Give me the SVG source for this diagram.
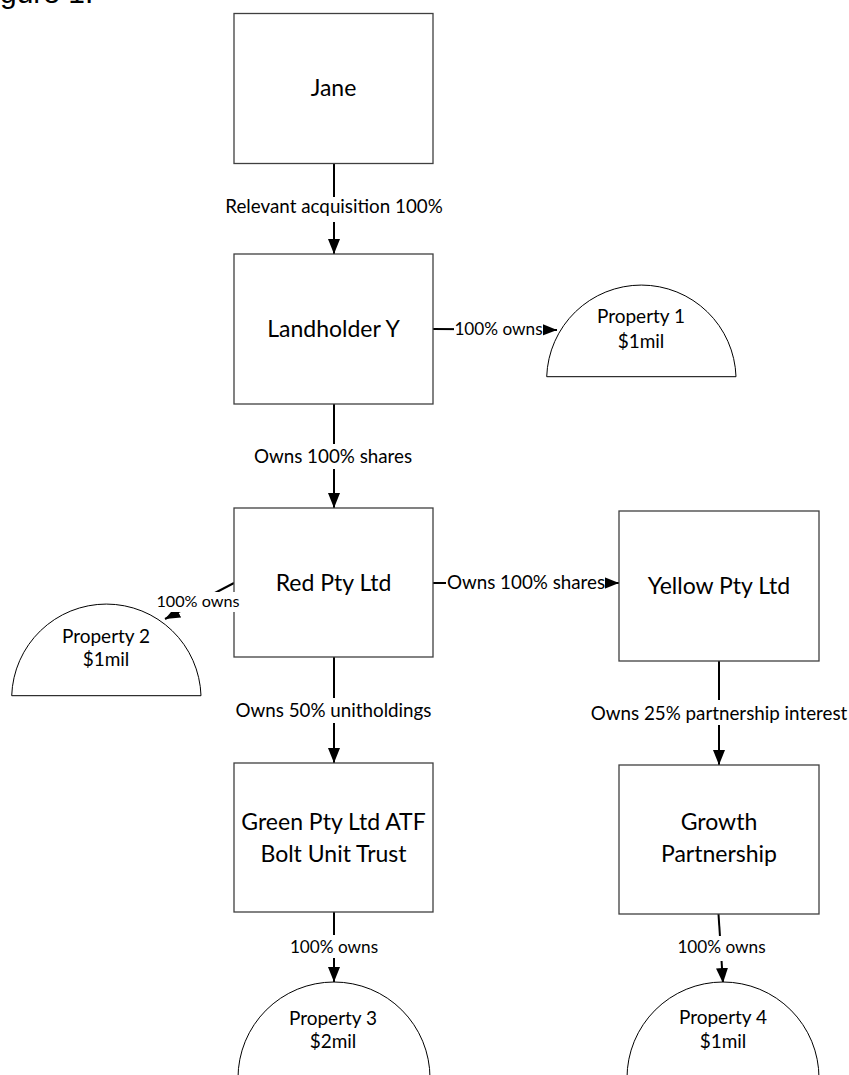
<svg xmlns="http://www.w3.org/2000/svg" width="849" height="1075" viewBox="0 0 849 1075">
<style>
.box{fill:#fff;stroke:#3f3f3f;stroke-width:1.3}
.prop{fill:#fff;stroke:#000;stroke-width:1}
.t{font-family:Lato,"Open Sans",sans-serif;font-size:23px;fill:#000;text-anchor:middle}
.p{font-family:Lato,"Open Sans",sans-serif;font-size:19px;fill:#000;text-anchor:middle}
.l{font-family:Lato,"Open Sans",sans-serif;font-size:18.8px;fill:#000;text-anchor:middle}
.s{font-family:Lato,"Open Sans",sans-serif;font-size:17.2px;fill:#000;text-anchor:middle}
.c{stroke:#000;stroke-width:2;fill:none}
.bg{fill:#fff}
</style>
<defs>
<marker id="ah" markerUnits="userSpaceOnUse" markerWidth="15" markerHeight="12" refX="15" refY="6" orient="auto"><path d="M0,0L15,6L0,12z" fill="#000"/></marker>
</defs>
<rect width="849" height="1075" fill="#fff"/>
<text x="-25" y="3" font-family="Liberation Sans, Arial, sans-serif" font-size="30">Figure 1:</text>

<g id="connectors">
<line class="c" x1="334" y1="163.5" x2="334" y2="254" marker-end="url(#ah)"/>
<line class="c" x1="334" y1="404" x2="334" y2="508" marker-end="url(#ah)"/>
<line class="c" x1="433" y1="329" x2="557" y2="330" marker-end="url(#ah)"/>
<line class="c" x1="433" y1="583" x2="619" y2="583" marker-end="url(#ah)"/>
<line class="c" x1="234" y1="583" x2="165" y2="619" marker-end="url(#ah)"/>
<line class="c" x1="334" y1="657" x2="334" y2="763" marker-end="url(#ah)"/>
<line class="c" x1="719" y1="661" x2="719" y2="765" marker-end="url(#ah)"/>
<line class="c" x1="334" y1="912" x2="334" y2="982" marker-end="url(#ah)"/>
<line class="c" x1="718.5" y1="914" x2="723" y2="983" marker-end="url(#ah)"/>
</g>

<g id="jane"><rect class="box" x="234" y="13.5" width="199" height="150"/><text class="t" x="333.5" y="96">Jane</text></g>
<g id="landholder-y"><rect class="box" x="234" y="254" width="199" height="150"/><text class="t" x="333.5" y="337">Landholder Y</text></g>
<g id="red"><rect class="box" x="234" y="508" width="199" height="149"/><text class="t" x="333.5" y="591">Red Pty Ltd</text></g>
<g id="yellow"><rect class="box" x="619" y="511" width="200" height="150"/><text class="t" x="719" y="594">Yellow Pty Ltd</text></g>
<g id="green"><rect class="box" x="234" y="763" width="199" height="149"/><text class="t" x="333.5" y="830">Green Pty Ltd ATF</text><text class="t" x="333.5" y="862">Bolt Unit Trust</text></g>
<g id="growth"><rect class="box" x="619" y="765" width="200" height="149"/><text class="t" x="719" y="830">Growth</text><text class="t" x="719" y="862">Partnership</text></g>

<g id="property-1"><path class="prop" d="M546.7,376.7A94.7,94.7 0 0 1 736,376.7Z"/><text class="p" x="641" y="323">Property 1</text><text class="p" x="641" y="348">$1mil</text></g>
<g id="property-2"><path class="prop" d="M11.7,695.7A94.7,94.7 0 0 1 201,695.7Z"/><text class="p" x="106" y="643">Property 2</text><text class="p" x="106" y="666">$1mil</text></g>
<g id="property-3"><path class="prop" d="M238,1078A96,96 0 0 1 430,1078Z"/><text class="p" x="333" y="1025">Property 3</text><text class="p" x="333" y="1048">$2mil</text></g>
<g id="property-4"><path class="prop" d="M627,1078A96,96 0 0 1 819,1078Z"/><text class="p" x="723" y="1024">Property 4</text><text class="p" x="723" y="1048">$1mil</text></g>

<g id="labels">
<rect class="bg" x="224" y="197" width="220" height="25"/><text class="l" x="334" y="213">Relevant acquisition 100%</text>
<rect class="bg" x="254" y="444" width="158" height="25"/><text class="l" x="333" y="463">Owns 100% shares</text>
<rect class="bg" x="454" y="318" width="89" height="22"/><text class="s" x="498.5" y="335">100% owns</text>
<rect class="bg" x="446" y="570" width="159" height="25"/><text class="l" x="526" y="589">Owns 100% shares</text>
<rect class="bg" x="157" y="592" width="82" height="20"/><text class="s" x="198" y="607" style="font-size:16.2px">100% owns</text>
<rect class="bg" x="236" y="698" width="196" height="25"/><text class="l" x="333.5" y="717">Owns 50% unitholdings</text>
<rect class="bg" x="586" y="700" width="266" height="25"/><text class="l" x="719" y="720">Owns 25% partnership interest</text>
<rect class="bg" x="290" y="935" width="88" height="23"/><text class="s" x="334" y="953">100% owns</text>
<rect class="bg" x="677" y="936" width="89" height="25"/><text class="s" x="721.5" y="953">100% owns</text>
</g>
</svg>
